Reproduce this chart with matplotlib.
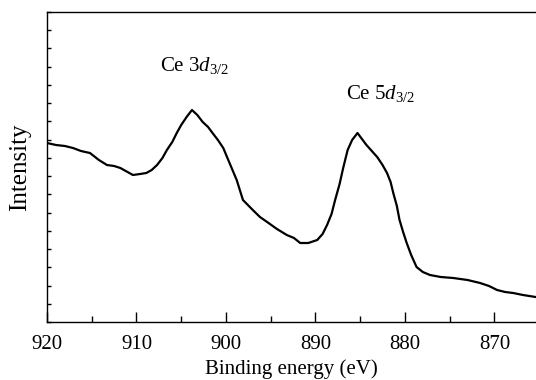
import matplotlib
matplotlib.use("Agg")
import matplotlib.pyplot as plt
from matplotlib.ticker import MultipleLocator
import numpy as np

plt.rcParams['font.family'] = ['Liberation Serif', 'DejaVu Serif']
plt.rcParams['mathtext.fontset'] = 'custom'
plt.rcParams['mathtext.rm'] = 'Liberation Serif'
plt.rcParams['mathtext.it'] = 'Liberation Serif:italic'

# Binding energy (eV) and intensity (arbitrary units)
energy = [920.0, 919.0, 918.0, 917.1, 916.2, 915.2, 914.2, 913.3, 912.5, 911.8,
          911.0, 910.4, 909.6, 908.9, 908.3, 907.7, 907.1, 906.6, 906.0, 905.5,
          905.0, 904.4, 903.8, 903.2, 902.6, 902.0, 901.5, 900.9, 900.3, 899.6,
          898.8, 898.1, 897.0, 896.2, 895.4, 894.3, 893.2, 892.4, 891.7, 890.8,
          889.8, 889.2, 888.7, 888.2, 887.8, 887.3, 886.9, 886.4, 885.9, 885.3,
          884.8, 884.3, 883.7, 883.1, 882.5, 882.0, 881.6, 881.3, 880.9, 880.6,
          880.2, 879.8, 879.3, 878.7, 878.0, 877.2, 876.0, 874.6, 873.0, 871.6,
          870.6, 869.7, 868.8, 867.9, 866.8, 865.4]
intensity = [179, 177, 176, 174, 171, 169, 162, 157, 156, 154,
             150, 147, 148, 149, 152, 157, 164, 172, 180, 189,
             197, 205, 212, 207, 200, 195, 189, 182, 174, 159,
             142, 122, 112, 105, 100, 93, 87, 84, 79, 79,
             82, 88, 97, 108, 122, 138, 154, 172, 182, 189,
             183, 177, 171, 165, 157, 149, 140, 129, 116, 102,
             90, 79, 67, 55, 50, 47, 45, 44, 42, 39,
             36, 32, 30, 29, 27, 25]

fig = plt.figure(figsize=(5.36, 3.80), dpi=100)
ax = fig.add_axes([47/536, 58/380, 1 - 47/536, 310/380])

ax.plot(energy, intensity, color='black', linewidth=1.6)

ax.set_xlim(920, 865.35)
ax.set_ylim(0, 310)
ax.xaxis.set_major_locator(MultipleLocator(10))
ax.xaxis.set_minor_locator(MultipleLocator(5))
ax.set_yticks(np.linspace(0, 310, 18))
ax.set_yticklabels([])
ax.tick_params(axis='x', which='major', direction='in', length=7, width=1,
               labelsize=15, pad=9.5, top=False)
ax.tick_params(axis='x', which='minor', direction='in', length=4, width=1, top=False)
ax.tick_params(axis='y', which='major', direction='in', length=3, width=1, right=False)
ax.spines['right'].set_visible(False)
for s in ['left', 'top', 'bottom']:
    ax.spines[s].set_linewidth(1.0)

ax.set_xlabel('Binding energy (eV)', fontsize=15, labelpad=4)
ax.set_ylabel('Intensity', fontsize=18, labelpad=8)

ax.text(903.5, 257, r'Ce 3$\mathit{d}_{3/2}$', fontsize=15, ha='center', va='center')
ax.text(882.7, 229, r'Ce 5$\mathit{d}_{3/2}$', fontsize=15, ha='center', va='center')

fig.savefig('out.png', dpi=100)
